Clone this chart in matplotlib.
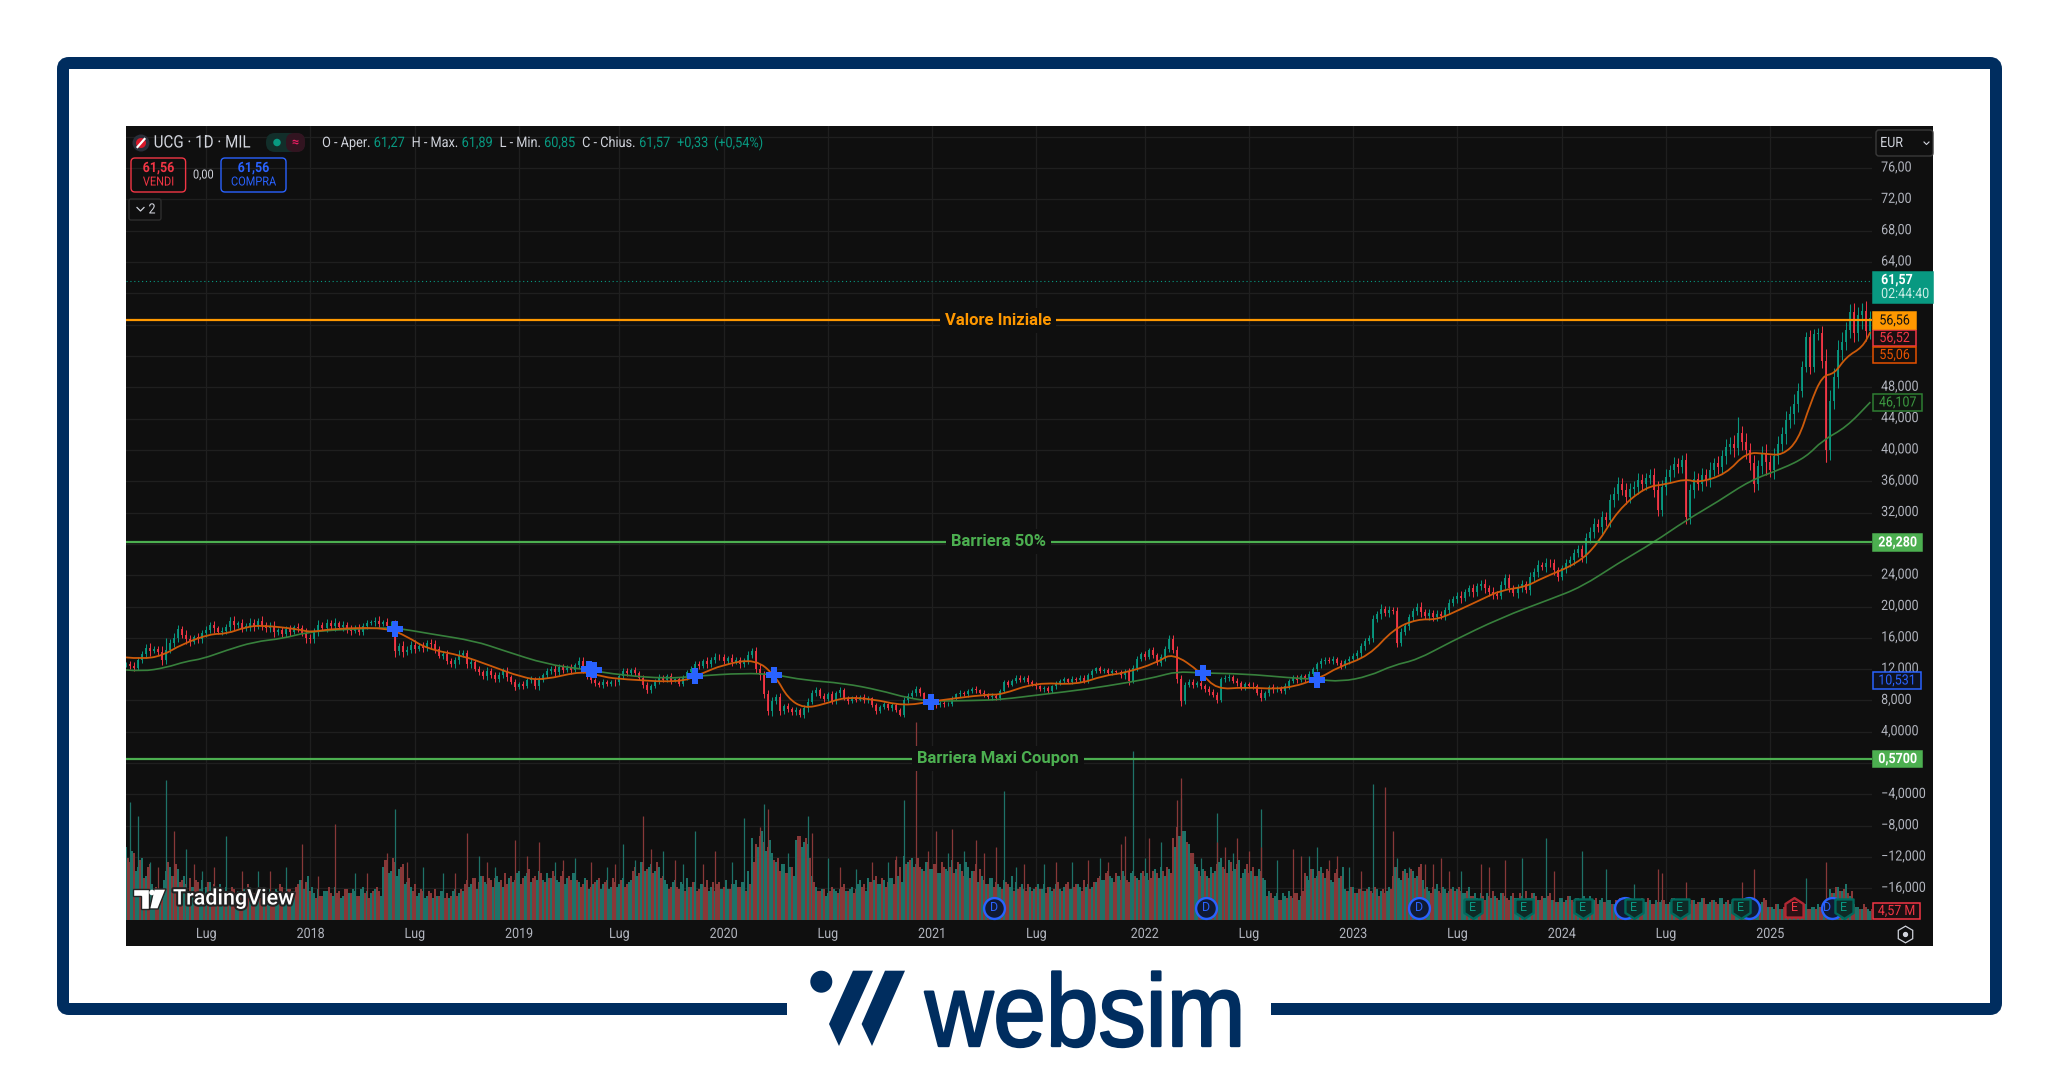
import matplotlib
matplotlib.use("Agg")
import matplotlib.pyplot as plt
from matplotlib.patches import Rectangle, FancyBboxPatch, Ellipse, Polygon, PathPatch
from matplotlib.path import Path
from matplotlib.transforms import Affine2D, ScaledTranslation
import matplotlib.patheffects as pe

plt.rcParams['font.family'] = ['Roboto', 'DejaVu Sans']

# weekly closes, one per bar position
closes = [
    12.6,12.4,12.2,13.2,13.9,14.7,14.3,14.6,14.2,13.2,14.4,15.4,16.0,17.1,16.4,15.8,15.5,16.1,15.8,16.6,
    17.0,17.6,17.2,16.8,16.9,17.4,18.2,17.6,17.9,17.3,17.5,17.9,17.4,18.2,17.6,17.2,17.5,16.7,17.0,16.5,
    17.1,16.8,17.4,17.3,16.6,16.0,15.8,16.8,17.7,17.3,17.9,17.5,17.9,17.4,17.6,17.0,16.9,17.3,16.8,17.5,
    17.9,18.0,18.2,17.8,18.0,17.5,17.5,14.3,14.9,14.2,14.5,15.1,14.6,15.0,14.7,15.3,15.2,14.6,13.7,13.9,
    13.1,12.6,13.2,13.8,14.1,12.6,12.9,12.0,11.6,11.1,11.8,11.2,10.7,11.3,11.8,11.0,10.4,9.7,10.1,9.9,
    10.6,10.7,9.8,10.6,11.2,11.8,12.0,11.6,12.3,11.9,12.2,11.9,12.5,13.1,12.0,11.1,10.6,10.2,10.0,10.3,
    10.1,10.4,10.3,11.1,11.8,11.5,11.9,11.5,10.9,10.0,9.3,9.8,10.5,11.0,10.6,11.1,10.5,10.7,10.1,10.9,
    11.6,12.0,12.7,12.4,13.0,12.6,13.2,13.6,13.5,13.0,13.4,12.9,13.2,12.6,13.1,13.8,14.3,12.0,11.2,8.8,
    6.6,7.9,8.5,6.6,7.3,6.9,6.5,6.8,6.2,7.0,7.8,9.0,9.3,8.6,8.2,8.8,7.9,8.9,9.3,8.3,
    7.9,8.4,8.1,8.5,8.0,8.3,7.4,6.6,7.2,7.5,7.0,7.4,6.8,6.2,8.1,8.6,9.0,9.4,8.9,8.1,
    7.8,7.9,7.4,7.7,7.5,7.6,8.3,8.8,9.0,8.8,9.2,9.5,9.3,9.0,8.8,8.4,8.6,8.3,9.2,10.3,
    10.0,10.5,10.9,10.6,10.9,10.4,10.1,9.8,9.4,9.6,9.2,9.8,10.2,10.5,10.7,10.4,10.8,10.6,10.9,10.5,
    11.2,11.7,12.1,11.8,11.9,11.5,11.7,11.6,11.2,11.6,10.5,12.2,13.3,13.9,13.6,14.4,13.8,12.8,13.5,14.6,
    15.9,14.5,10.7,7.9,10.0,10.4,10.0,10.2,9.8,9.4,9.1,8.7,8.1,10.7,10.9,11.0,10.5,10.2,9.6,10.1,
    9.9,9.8,9.0,8.3,8.9,9.7,9.4,9.5,9.2,9.8,10.5,10.9,10.6,11.1,10.7,11.4,12.0,12.6,13.0,13.2,
    13.1,13.3,12.8,12.4,13.0,13.3,13.7,14.1,14.9,15.6,16.0,18.4,19.0,19.7,19.2,19.6,19.4,15.4,16.8,17.5,
    18.6,19.4,20.0,19.3,18.8,19.2,18.6,19.0,18.8,19.5,20.5,20.9,21.4,21.1,21.8,22.3,21.8,22.6,22.9,22.3,
    21.9,21.6,21.4,22.8,23.6,22.4,21.7,22.3,22.9,22.1,23.8,24.4,25.3,25.0,25.6,25.5,24.6,23.8,24.9,25.5,
    25.9,26.8,27.3,26.3,28.7,29.5,30.6,30.1,31.4,31.0,33.6,34.4,35.7,34.9,34.0,35.0,35.3,36.1,35.6,36.4,
    36.8,34.9,32.3,35.3,36.5,37.4,38.2,37.8,38.7,31.4,34.9,36.3,35.6,36.8,36.2,37.4,38.3,37.8,39.2,40.4,
    40.8,40.2,42.1,41.0,40.0,38.3,35.7,37.9,39.5,38.4,37.4,39.2,40.8,42.0,43.8,44.6,45.9,47.5,
    50.6,54.4,50.6,54.8,54.9,51.4,40.0,46.3,49.3,52.7,53.8,55.3,57.6,54.9,57.2,57.7,55.2,56.8,
]
# shadow length beyond the body of each bar
wick_len = [
    .3,.4,.5,.3,.4,.5,.6,.3,.4,.7,.5,.4,.6,.5,.4,.6,.5,.3,.5,.4,
    .5,.4,.6,.3,.5,.4,.5,.6,.3,.5,.4,.6,.5,.3,.6,.4,.5,.6,.3,.4,
    .4,.6,.3,.5,.4,.7,.5,.4,.6,.3,.5,.4,.6,.3,.5,.4,.6,.3,.5,.4,
    .4,.3,.5,.6,.3,.5,.6,.8,.5,.7,.4,.5,.6,.3,.5,.4,.6,.5,.3,.4,
    .5,.3,.4,.6,.3,.4,.5,.3,.4,.3,.5,.3,.4,.3,.4,.5,.3,.4,.3,.4,
    .3,.4,.3,.5,.3,.3,.4,.5,.3,.4,.3,.5,.3,.4,.5,.3,.4,.3,.3,.4,
    .3,.2,.4,.3,.3,.4,.3,.4,.3,.4,.3,.3,.2,.4,.3,.3,.4,.2,.3,.3,
    .3,.4,.3,.4,.3,.5,.3,.4,.3,.4,.3,.5,.3,.4,.3,.5,.4,.5,.6,.5,
    .5,.6,.3,.4,.3,.4,.3,.4,.3,.4,.5,.3,.4,.3,.4,.3,.4,.3,.4,.3,
    .3,.2,.3,.2,.3,.3,.2,.3,.2,.3,.2,.3,.3,.2,.3,.4,.3,.4,.3,.2,
    .3,.2,.3,.2,.3,.2,.3,.2,.3,.2,.3,.2,.3,.2,.3,.2,.3,.2,.3,.3,
    .3,.2,.3,.3,.2,.3,.2,.3,.2,.3,.3,.2,.3,.2,.3,.2,.3,.2,.3,.3,
    .3,.3,.2,.3,.3,.2,.3,.2,.3,.4,.5,.3,.4,.3,.4,.3,.4,.3,.4,.4,
    .4,.5,.5,.6,.4,.3,.4,.3,.4,.3,.4,.3,.4,.3,.3,.4,.3,.4,.3,.3,
    .3,.4,.3,.4,.3,.3,.4,.3,.3,.4,.3,.3,.4,.3,.3,.4,.3,.3,.4,.3,
    .3,.4,.3,.4,.3,.4,.3,.4,.5,.4,.4,.5,.4,.6,.4,.5,.4,.6,.5,.4,
    .5,.4,.5,.6,.4,.5,.4,.5,.4,.5,.5,.4,.5,.6,.4,.5,.6,.4,.5,.6,
    .5,.6,.4,.5,.6,.5,.4,.6,.5,.4,.6,.5,.6,.4,.6,.5,.6,.5,.4,.6,
    .5,.6,.5,.6,.7,.6,.7,.6,.8,.7,.8,.9,.8,.7,.9,.8,.7,.9,.8,.7,
    .8,.9,.7,.8,1.0,.7,.9,.8,.7,.9,.8,1.0,.7,.9,.8,1.0,.7,.9,.8,1.0,
    .9,1.1,.8,1.0,1.2,.9,1.1,.8,1.0,1.2,.9,1.1,1.0,.9,1.2,1.0,1.3,1.1,.8,.7,
    .9,.7,.7,.9,1.5,1.3,1.1,1.4,1.2,1.0,1.0,1.1,1.0,.9,1.3,1.0,
]
# the long shadows that stand out
wick_x = [10, 26, 67, 97, 130, 156, 263, 260, 317, 382, 389, 402, 406, 409, 424, 430, 433]
wick_top = [16.0, 18.6, 17.2, 10.4, 10.2, 14.6, 11.0, 16.2, 19.6, 36.0, 38.0, 44.2, 38.0, 39.0, 49.0, 58.5, 58.7]
wick_bottom = [13.0, 17.0, 14.0, 9.3, 9.0, 13.5, 7.8, 14.6, 15.2, 32.2, 31.0, 41.0, 35.2, 36.8, 38.5, 55.0, 55.5]

ema_x = [0,4,9,14,21,25,30,34,43,46,52,65,70,75,84,90,99,104,114,119,124,138,143,149,157,162,165,169,
         174,179,186,194,201,215,218,227,237,244,249,257,261,268,272,279,289,298,302,310,316,322,327,333,338,
         343,349,353,362,367,372,379,384,389,392,399,404,409,413,417,420,423,426,429,433,435]
ema_y = [13.5,13.3,13.7,15.2,16.5,16.5,17.4,17.6,17.1,16.7,17.2,17.3,16.2,14.6,13.7,12.6,10.9,10.6,11.8,11.0,10.7,10.3,11.3,12.6,13.3,11.1,8.3,7.0,
         7.5,8.4,8.2,7.3,7.9,8.8,8.7,10.3,10.0,11.2,11.5,12.8,14.1,11.6,9.4,9.7,9.4,10.9,12.2,13.7,17.1,18.4,18.3,19.7,20.9,
         22.1,22.5,23.6,25.5,28.0,32.3,35.3,35.6,36.3,35.8,36.9,39.7,39.5,39.3,41.2,45.9,49.5,49.7,51.9,53.1,55.06]
sma_x = [0,4,10,15,19,25,32,39,45,52,60,67,76,87,94,105,114,124,135,142,154,162,169,
         179,188,195,201,212,218,229,239,250,257,262,268,279,290,297,303,310,316,322,330,343,
         355,363,372,381,389,397,405,413,419,423,429,435]
sma_y = [11.9,11.7,12.2,13.0,13.3,14.4,15.5,15.9,16.7,17.0,17.2,17.3,16.5,15.6,14.4,12.6,12.0,11.2,10.8,11.1,11.5,11.3,10.6,
         10.2,9.3,8.3,7.9,8.0,8.1,8.8,9.4,10.3,11.0,11.7,11.5,11.4,10.9,10.7,10.4,11.1,12.5,13.2,15.4,18.6,
         20.9,22.5,25.5,28.2,31.0,33.4,36.1,37.6,39.1,41.2,42.9,46.107]

# volume in millions, same bar positions
volumes = [
    33,26,30,24,28,20,25,13,14,13,22,24,20,23,18,16,19,15,17,18,15,17,16,14,13,15,12,14,13,11,13,15,12,14,13,11,14,12,13,15,
    12,14,13,16,18,17,13,12,14,11,13,12,15,13,11,14,12,13,11,15,13,12,14,13,24,27,22,26,23,25,17,15,16,12,13,11,12,14,11,13,
    12,11,14,12,13,18,16,19,17,20,16,18,19,17,15,16,20,18,22,19,21,17,20,22,18,21,19,20,17,22,19,18,21,17,16,18,15,17,19,16,
    18,15,17,16,19,16,18,24,21,26,23,25,22,24,20,16,15,18,14,16,19,15,17,14,16,18,15,13,17,15,14,16,18,15,17,22,37,34,38,35,
    33,30,26,22,25,21,24,36,38,35,34,20,15,13,14,12,15,13,14,16,13,15,14,18,16,19,17,20,16,18,17,19,27,24,29,26,28,25,24,22,
    26,23,25,21,24,22,27,23,25,20,24,22,25,23,18,16,19,17,15,18,16,20,17,15,14,16,13,15,14,16,15,13,16,14,15,17,14,16,15,18,
    16,15,17,20,18,22,19,21,18,20,17,22,19,21,20,18,22,21,24,20,23,37,42,38,40,34,30,24,20,22,19,21,25,28,23,27,22,25,19,23,
    21,24,20,22,18,13,10,12,9,11,13,10,12,11,21,18,23,20,24,19,22,17,23,20,14,13,15,12,14,13,15,12,14,13,12,15,20,24,18,23,
    19,22,20,25,14,13,15,16,12,14,13,15,14,13,12,15,11,10,12,9,11,13,10,12,11,9,12,10,11,13,10,12,9,11,10,12,9,8,10,9,
    11,8,10,9,8,11,9,7,10,8,9,7,8,10,7,9,8,7,10,8,9,7,8,9,7,8,10,7,9,8,7,9,8,10,7,8,9,7,10,8,
    7,9,8,7,10,8,9,7,8,9,6,5,7,5,6,5,4,6,5,7,5,6,7,5,4,14,12,15,13,16,11,7,6,5,6,4,5,6,5,4,
    5,5,6,5,5,5,
]
# second sample inside each week, the bars there run much denser than one a week
volumes_mid = [
    28,31,22,27,19,24,16,15,11,18,26,20,25,17,20,13,15,18,14,12,17,13,14,16,11,13,15,11,12,14,16,11,13,10,15,12,11,14,16,12,
    14,11,15,18,14,20,15,10,11,13,15,11,12,10,14,12,14,11,14,12,10,13,15,11,27,21,28,20,24,16,19,13,11,14,10,13,10,11,13,10,
    10,13,11,14,16,15,19,14,20,17,19,15,20,18,21,19,17,21,16,20,23,19,18,21,17,19,22,18,20,16,20,21,18,15,19,14,16,18,14,17,
    14,19,15,18,15,17,22,20,26,22,24,21,26,19,18,14,17,15,17,13,15,17,13,16,15,13,17,16,14,18,14,16,15,17,13,16,26,33,40,31,
    36,27,28,25,21,24,20,38,33,37,28,17,13,14,11,13,14,12,15,13,14,12,16,15,13,17,18,16,19,15,19,16,20,17,25,27,24,28,23,26,
    23,25,21,26,23,24,21,26,22,26,19,22,17,20,16,19,15,16,14,17,15,13,14,16,13,15,14,16,14,12,15,14,17,13,16,14,15,16,13,15,
    14,17,19,18,21,20,17,20,22,18,21,20,18,22,21,19,23,19,22,24,21,33,38,40,35,30,25,22,23,20,24,22,26,24,21,26,23,27,21,25,
    22,20,23,19,11,12,11,9,12,10,11,12,9,13,20,23,19,22,21,23,18,21,19,24,13,15,12,14,13,14,13,15,11,14,13,14,24,19,22,21,
    23,19,24,18,15,12,14,13,15,12,14,13,15,12,13,11,12,9,11,12,10,11,9,12,10,11,10,12,9,10,12,11,9,10,11,9,8,10,8,11,
    9,10,8,11,9,8,10,9,8,9,7,9,10,8,9,8,9,7,8,10,7,9,8,9,7,10,8,9,7,8,9,7,8,10,7,9,8,10,7,9,
    8,7,9,8,7,9,8,7,10,6,6,7,5,6,5,6,5,5,7,5,6,5,6,7,5,12,15,13,14,12,13,6,5,7,5,5,6,4,6,5,
    4,6,5,5,6,5,
]
spike_up_x = [1,3,6,10,15,19,25,33,40,57,67,74,79,88,92,107,112,120,124,127,134,139,142,151,154,159,165,170,175,182,190,194,205,209,219,222,229,236,243,
              251,254,258,263,268,272,276,283,287,295,297,305,311,317,320,333,348,354,363,369,376,419]
spike_up = [53,47,26,63,32,22,38,22,24,21,50,24,21,29,24,26,28,24,34,27,31,25,40,26,46,52,30,47,28,23,26,54,30,31,58,24,25,26,28,
            76,28,35,55,28,48,30,50,27,29,33,24,61,28,24,22,28,37,31,23,16,19]
spike_down_x = [8,12,17,22,29,36,44,48,52,60,65,70,82,85,90,97,100,103,109,116,122,129,131,137,144,147,158,160,168,171,178,186,192,197,200,202,206,212,214,217,224,232,240,245,
                248,249,255,262,263,266,272,274,277,280,283,291,293,300,302,308,314,316,324,326,328,330,338,340,344,356,382,383,389,403,406,424]
spike_down = [24,40,25,24,22,22,34,20,43,21,30,26,21,39,26,36,29,35,27,26,25,47,32,27,25,31,42,50,32,39,24,26,29,89,31,40,41,36,30,33,25,26,27,26,
              34,38,37,54,64,30,35,33,37,31,33,32,29,27,29,22,60,40,25,25,28,22,25,24,27,22,23,21,17,17,23,26]

price_ticks = [-16,-12,-8,-4,0,4,8,12,16,20,24,28,32,36,40,44,48,52,56,60,64,68,72,76,80]
price_labels = ['−16,000','−12,000','−8,000','−4,0000','','4,0000','8,000','12,000','16,000','20,000','24,000','','32,000','36,000','40,000','44,000','48,000','','','','64,00','68,00','72,00','76,00','']
time_ticks = [20,46,72,98,123,149,175,201,227,254,280,306,332,358,384,410]
time_labels = ['Lug','2018','Lug','2019','Lug','2020','Lug','2021','Lug','2022','Lug','2023','Lug','2024','Lug','2025']

signal_x = [67,115.4,116.8,142,161.6,200.7,268.5,297]
signal_y = [17.1,12.0,11.9,11.1,11.3,7.8,11.5,10.6]
div_x = [216.5,269.3,322.4,373.7,404.7,425.4]
earn_up_x = [335.9,348.6,363.3,376,387.5,402.7,428.4]
earn_down_x = [416]

levels = [56.56, 28.28, 0.57]
level_names = ['Valore Iniziale', 'Barriera 50%', 'Barriera Maxi Coupon']
level_colors = ['#ff9800', '#4caf50', '#4caf50']
last_close = 61.57

BG = '#0f0f0f'
GRID = '#1f1f1f'
UP = '#089981'
DOWN = '#f23645'
TXT = '#d1d4dc'
AXTXT = '#b2b5be'
NAVY = '#002d5f'
BLUE = '#2962ff'
VOL_UP = '#1e7268'
VOL_DOWN = '#883838'


class Squeeze(pe.AbstractPathEffect):
    # narrows a text horizontally, the chart fonts are condensed
    def __init__(self, sx, anchor='left', bold=0):
        self.sx = sx
        self.anchor = anchor
        self.bold = bold

    def draw_path(self, renderer, gc, tpath, affine, rgbFace=None):
        ext = tpath.get_extents()
        x0 = ext.x0 if self.anchor == 'left' else (ext.x0 + ext.x1) / 2
        squeeze = Affine2D().translate(-x0, 0).scale(self.sx, 1).translate(x0, 0)
        if self.bold:
            gc0 = renderer.new_gc()
            gc0.copy_properties(gc)
            gc0.set_linewidth(self.bold)
            gc0.set_foreground(rgbFace)
            renderer.draw_path(gc0, tpath, squeeze + affine, rgbFace)
            gc0.restore()
        else:
            renderer.draw_path(gc, tpath, squeeze + affine, rgbFace)


def smooth_path(xs, ys):
    verts = [(xs[0], ys[0])]
    codes = [Path.MOVETO]
    for i in range(1, len(xs) - 1):
        verts += [(xs[i], ys[i]), ((xs[i] + xs[i+1]) / 2, (ys[i] + ys[i+1]) / 2)]
        codes += [Path.CURVE3, Path.CURVE3]
    verts.append((xs[-1], ys[-1]))
    codes.append(Path.LINETO)
    return Path(verts, codes)


W, H = 2059, 1072
fig = plt.figure(figsize=(W/100, H/100), dpi=100, facecolor='white')
rect = [126/W, (H-920)/H, (1872-126)/W, (920-126)/H]

# pixel canvas behind everything: frame, chart panel
back = fig.add_axes([0,0,1,1], zorder=0)
back.set_xlim(0,W); back.set_ylim(H,0); back.axis('off')
back.add_patch(FancyBboxPatch((63,63),1933,946,boxstyle='round,pad=0,rounding_size=6',fc='none',ec=NAVY,lw=8.64))
back.add_patch(Rectangle((787,990),484,40,fc='white',ec='none'))
back.add_patch(Rectangle((126,126),1807,820,fc=BG,ec='none'))

# grid and axis labels sit under the volume
gax = fig.add_axes(rect, zorder=0.5)
gax.patch.set_alpha(0)
for s in gax.spines.values():
    s.set_visible(False)
gax.set_xlim(0,435.4); gax.set_ylim(-20.04,81.37)
gax.set_yticks(price_ticks, price_labels)
gax.set_xticks(time_ticks, time_labels)
gax.yaxis.tick_right()
gax.tick_params(axis='y', length=0, pad=6.5, labelsize=10.2, labelcolor=AXTXT)
gax.tick_params(axis='x', length=0, pad=5, labelsize=10.2, labelcolor=AXTXT)
gax.grid(True, color=GRID, lw=0.9)
up_shift = ScaledTranslation(0, 2/100, fig.dpi_scale_trans)
for lbl in gax.get_yticklabels():
    lbl.set_transform(lbl.get_transform() + up_shift)
    lbl.set_path_effects([Squeeze(0.88)])
for lbl in gax.get_xticklabels():
    lbl.set_path_effects([Squeeze(0.88, 'center')])

# volume underneath the price
vax = fig.add_axes(rect, zorder=1)
vax.patch.set_alpha(0)
vax.axis('off')
vax.set_xlim(0,435.4); vax.set_ylim(0,357.3)
vol_x = list(range(len(volumes)))
vol_mid_x = [i + 0.5 for i in range(len(volumes_mid))]
prev = [closes[0]] + closes[:-1]
vol_col = [VOL_UP if c >= p else VOL_DOWN for c, p in zip(closes, prev)]
vol_mid_col = [VOL_DOWN if c == VOL_UP else VOL_UP for c in vol_col]
vax.bar(vol_x, volumes, width=0.5, color=vol_col, linewidth=0)
vax.bar(vol_mid_x, volumes_mid, width=0.5, color=vol_mid_col, linewidth=0)
vax.vlines(spike_up_x, 0, spike_up, color=VOL_UP, lw=0.9)
vax.vlines(spike_down_x, 0, spike_down, color=VOL_DOWN, lw=0.9)

ax = fig.add_axes(rect, zorder=2)
ax.patch.set_alpha(0)
ax.axis('off')
ax.set_xlim(0,435.4); ax.set_ylim(-20.04,81.37)

cx = list(range(len(closes)))
col = [UP if c >= p else DOWN for c, p in zip(closes, prev)]
highs = [max(p, c) + w for p, c, w in zip(prev, closes, wick_len)]
lows = [min(p, c) - w for p, c, w in zip(prev, closes, wick_len)]
ax.vlines(cx[:len(highs)], lows, highs, color=col[:len(highs)], lw=0.7, zorder=3)
wick_col = [UP if closes[i] >= closes[i-1] else DOWN for i in wick_x]
ax.vlines(wick_x, wick_bottom, wick_top, color=wick_col, lw=0.8, zorder=3)
ax.vlines(cx, prev, closes, color=col, lw=1.3, zorder=3)
ax.add_patch(PathPatch(smooth_path(sma_x, sma_y), fc='none', ec='#37803c', lw=1.2, zorder=4))
ax.add_patch(PathPatch(smooth_path(ema_x, ema_y), fc='none', ec='#cc5a0a', lw=1.3, zorder=5))
ax.axhline(last_close, color=UP, lw=0.8, ls=(0,(1,2.5)), zorder=3)
for lv, name, c in zip(levels, level_names, level_colors):
    ax.axhline(lv, color=c, lw=1.6, zorder=6)
    ax.text(217.5, lv, name, color=c, fontsize=12, fontweight='bold', ha='center', va='center', zorder=7,
            bbox=dict(fc=BG, ec='none', pad=3.5))
ax.plot(signal_x, signal_y, ls='none', marker='P', ms=12, mfc=BLUE, mec=BLUE, mew=0, zorder=8)

# dividend and earnings flags along the bottom
house = Path([(-1,1),(-1,-0.5),(0,-1.15),(1,-0.5),(1,1),(-1,1)])
house_down = Path([(-1,-1),(-1,0.5),(0,1.15),(1,0.5),(1,-1),(-1,-1)])
flag_y = -18.5
ax.plot(div_x, [flag_y]*len(div_x), ls='none', marker='o', ms=15, mfc='#101a33', mec=BLUE, mew=1.7, zorder=9, clip_on=False)
ax.plot(earn_up_x, [flag_y]*len(earn_up_x), ls='none', marker=house, ms=15, mfc='#0e2a26', mec='#00695c', mew=1.7, zorder=10, clip_on=False)
ax.plot(earn_down_x, [flag_y]*len(earn_down_x), ls='none', marker=house_down, ms=15, mfc='#2c1115', mec='#b22833', mew=1.7, zorder=10, clip_on=False)
for x in div_x[:3]:
    ax.text(x, flag_y, 'D', color=BLUE, fontsize=9, ha='center', va='center', zorder=11)
ax.text(div_x[5]-1.1, flag_y, 'D', color=BLUE, fontsize=9, ha='center', va='center', zorder=9.5)
for x in earn_up_x:
    ax.text(x, flag_y, 'E', color=UP, fontsize=9, ha='center', va='center', zorder=11)
ax.text(earn_down_x[0], flag_y, 'E', color=DOWN, fontsize=9, ha='center', va='center', zorder=11)

# pixel canvas on top: header, tags, logos
top = fig.add_axes([0,0,1,1], zorder=3)
top.patch.set_alpha(0)
top.set_xlim(0,W); top.set_ylim(H,0); top.axis('off')
narrow = [Squeeze(0.88)]
narrow_c = [Squeeze(0.88, 'center')]


def tag(x0, x1, y0, y1, txt, fc, ec, tc, weight='normal'):
    top.add_patch(Rectangle((x0,y0),x1-x0,y1-y0,fc=fc,ec=ec,lw=1.1))
    top.text(x0+(x1-x0)/2, (y0+y1)/2, txt, color=tc, fontsize=10.2, ha='center', va='center', fontweight=weight, path_effects=narrow_c)


tag(1873,1933,272,303,'',UP,UP,'white')
top.text(1881,280,'61,57',color='white',fontsize=10.2,fontweight='bold',va='center',path_effects=narrow)
top.text(1881,294,'02:44:40',color='#c9ece5',fontsize=10.2,va='center',path_effects=narrow)
tag(1873,1916,330,346,'56,52','#1a0f11',DOWN,DOWN)
tag(1873,1916,347,363,'55,06','#150f0c','#e65100','#e65100')
tag(1873,1916,312,329,'56,56','#ff9800','#ff9800','#111111')
tag(1873,1922,394,411,'46,107','#0f140f','#2e7d32','#3c9a41')
tag(1873,1922,534,551,'28,280','#4caf50','#4caf50','white','bold')
tag(1873,1922,751,767,'0,5700','#4caf50','#4caf50','white','bold')
tag(1873,1921,672,689,'10,531','#0e1220',BLUE,BLUE)
tag(1873,1920,903,919,'4,57 M','#1a0f11',DOWN,DOWN)

# header
top.add_patch(Ellipse((141,143),17,17,fc='#2a2e39',ec='none'))
top.add_patch(Ellipse((141,143),10,10,fc='#d8182a',ec='none'))
top.plot([137.5,144.5],[147,139],color='white',lw=1.6)
top.text(153.5,143,'UCG · 1D · MIL',color=TXT,fontsize=12.4,va='center',path_effects=narrow)
top.add_patch(FancyBboxPatch((266,133),39,19,boxstyle='round,pad=0,rounding_size=9',fc='#122e2a',ec='none'))
top.add_patch(FancyBboxPatch((286,133),19,19,boxstyle='round,pad=0,rounding_size=8',fc='#321420',ec='none'))
top.add_patch(Ellipse((277,142.5),7.5,7.5,fc=UP,ec='none'))
top.text(295.5,142.5,'≈',color='#e91e63',fontsize=9,ha='center',va='center',fontweight='bold')
for x, s, c in [(322,'O - Aper.',TXT),(373.6,'61,27',UP),(411.5,'H - Max.',TXT),(461.5,'61,89',UP),
                (499.5,'L - Min.',TXT),(544,'60,85',UP),(582,'C - Chius.',TXT),(639,'61,57',UP),
                (677,'+0,33',UP),(713.8,'(+0,54%)',UP)]:
    top.text(x,143,s,color=c,fontsize=10.4,va='center',path_effects=narrow)
top.add_patch(FancyBboxPatch((131,158),54.6,34,boxstyle='round,pad=0,rounding_size=4',fc='none',ec=DOWN,lw=1))
top.add_patch(FancyBboxPatch((221,158),65,34,boxstyle='round,pad=0,rounding_size=4',fc='none',ec=BLUE,lw=1))
top.text(158.5,168,'61,56',color=DOWN,fontsize=10.2,ha='center',va='center',fontweight='bold',path_effects=narrow_c)
top.text(158.5,182,'VENDI',color=DOWN,fontsize=9,ha='center',va='center',path_effects=narrow_c)
top.text(203.5,175,'0,00',color=TXT,fontsize=9,ha='center',va='center',path_effects=narrow_c)
top.text(253.5,168,'61,56',color=BLUE,fontsize=10.2,ha='center',va='center',fontweight='bold',path_effects=narrow_c)
top.text(253.5,182,'COMPRA',color=BLUE,fontsize=9,ha='center',va='center',path_effects=narrow_c)
top.add_patch(FancyBboxPatch((129,199),32,21,boxstyle='round,pad=0,rounding_size=2',fc='none',ec='#2e2e2e',lw=1))
top.plot([137,140.5,144],[207.5,211,207.5],color=TXT,lw=0.9)
top.text(152,209.5,'2',color=TXT,fontsize=10.2,ha='center',va='center',path_effects=narrow_c)
top.add_patch(FancyBboxPatch((1876,130),57,26,boxstyle='round,pad=0,rounding_size=3',fc=BG,ec='#3a3a3a',lw=1))
top.text(1880,143,'EUR',color=TXT,fontsize=10.2,va='center',path_effects=narrow)
top.plot([1924,1926.5,1929],[142,144.5,142],color=TXT,lw=0.8)

# settings glyph
top.plot([1905.4],[934],marker='h',ms=12,mfc='none',mec=TXT,mew=0.9)
top.plot([1905.4],[934],marker='o',ms=2.8,mfc=TXT,mec=TXT)

# TradingView logo
stroke = [pe.withStroke(linewidth=3, foreground='#222222')]
for pts in [[(133,889),(149,889),(149,909),(141,909),(141,896),(133,896)],
            [(154,889),(166,889),(158,909),(149.5,909)]]:
    top.add_patch(Polygon(pts,fc='white',ec='#222222',lw=1))
top.add_patch(Ellipse((152,892.5),5.5,5.5,fc='white',ec='none'))
top.text(173,899,'TradingView',color='white',fontsize=15.5,fontweight='medium',va='center',path_effects=stroke)

# websim logo
top.add_patch(Ellipse((821.3,981.7),22,22,fc=NAVY,ec='none'))
top.add_patch(Polygon([(853,970.7),(873,970.7),(839,1046),(829,1024)],fc=NAVY,ec='none'))
top.add_patch(Polygon([(885,970.7),(905,970.7),(872,1046),(861.6,1024)],fc=NAVY,ec='none'))
top.text(925,1046,'websim',color=NAVY,fontsize=74,family='Liberation Sans',va='baseline',path_effects=[Squeeze(0.92, bold=1.7)])

fig.savefig('out.png', dpi=100, facecolor='white')
